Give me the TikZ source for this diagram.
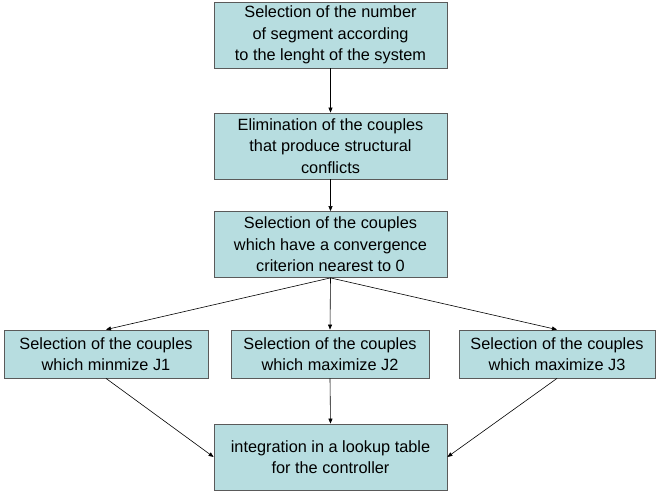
\documentclass[tikz,border=0pt]{standalone}
\usepackage{fontspec}
\setmainfont{Liberation Sans}
\usepackage{tikz}
\usetikzlibrary{arrows.meta}
\usepackage{xcolor}
\definecolor{boxfill}{RGB}{183,221,224}
\definecolor{boxline}{RGB}{90,90,90}

\tikzset{
  stepbox/.style={draw=boxline, fill=boxfill, line width=0.8pt, align=center,
    inner sep=0pt, font=\fontsize{16.3}{21.5}\selectfont},
  tallbox/.style={stepbox, minimum width=233pt, minimum height=66pt},
  flow/.style={-{Triangle[length=5pt,width=4pt]}, line width=0.6pt}
}

\begin{document}
\begin{tikzpicture}[x=1pt,y=-1pt]
					\useasboundingbox (0,0) rectangle (659,495);
					\node [tallbox] (segment) at (330.5, 35) {Selection of the number\\of segment according\\to the lenght of the system};
					\node [tallbox] (conflict) at (330.5, 146) {Elimination of the couples\\that produce structural\\conflicts};
					\node [tallbox] (converge) at (330.5, 244.5) {Selection of the couples\\which have a convergence\\criterion nearest to 0};
					\node [stepbox, minimum width=204pt, minimum height=48pt] (jone) at (106, 354) {Selection of the couples\\which minmize J1};
					\node [stepbox, minimum width=198pt, minimum height=48pt] (jtwo) at (330, 354) {Selection of the couples\\which maximize J2};
					\node [stepbox, minimum width=196pt, minimum height=48pt] (jthree) at (557, 354) {Selection of the couples\\which maximize J3};
					\node [tallbox] (lookup) at (330.5, 457) {integration in a lookup table\\for the controller};
					\draw [flow] (segment.south)--(conflict.north);
					\draw [flow] (conflict.south)--(converge.north);
					\draw [flow] (converge.south)--(jone.north);
					\draw [flow] (converge.south)--(jtwo.north);
					\draw [flow] (converge.south)--(jthree.north);
					\draw [flow] (jone.south)--(lookup.west);
					\draw [flow] (jtwo.south)--(lookup.north);
					\draw [flow] (jthree.south)--(lookup.east);
				\end{tikzpicture}
\end{document}
